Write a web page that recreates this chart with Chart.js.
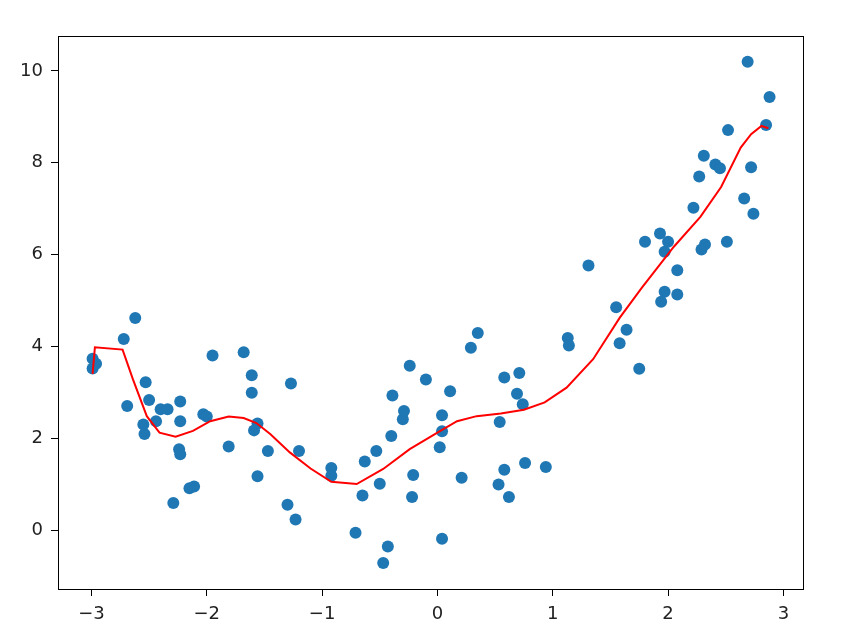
<!DOCTYPE html>
<html>
<head>
  <title>Scatter with fitted curve</title>
  <script src="https://cdn.jsdelivr.net/npm/chart.js"></script>
  <style>
    body { margin: 0; background: #fff; }
    #wrap { width: 844px; height: 635px; }
  </style>
</head>
<body>
  <div id="wrap"><canvas id="chart" width="844" height="635"></canvas></div>

  <script>
    // scatter points
    const scatterX = [-2.99, -2.99, -2.96, -2.72, -2.62, -2.69, -2.53, -2.50, -2.40, -2.34, -2.44, -2.55, -2.54,
      -2.23, -2.23, -2.24, -2.23, -2.29, -2.15, -2.11, -1.95, -2.03, -2.00, -1.81, -1.68, -1.61, -1.61, -1.56,
      -1.59, -1.47, -1.56, -1.27, -1.20, -1.30, -1.23,
      -0.92, -0.92, -0.71, -0.65, -0.63, -0.53, -0.50, -0.43, -0.47, -0.40, -0.39, -0.30, -0.29, -0.24, -0.21,
      -0.22, -0.10, 0.02, 0.04, 0.04, 0.04, 0.11, 0.21, 0.29, 0.35, 0.54, 0.58, 0.69, 0.74, 0.71, 0.58, 0.53,
      0.62, 0.76, 0.94,
      1.31, 1.55, 1.58, 1.13, 1.14, 1.64, 1.75,
      2.69, 2.88, 2.85, 2.52, 2.31, 2.41, 2.45, 2.72, 2.27, 2.22, 2.66, 2.74, 1.80, 1.93, 2.00, 1.97, 2.29,
      2.32, 2.51, 2.08, 1.97, 2.08, 1.94];
    const scatterY = [3.73, 3.52, 3.62, 4.16, 4.62, 2.70, 3.22, 2.83, 2.63, 2.63, 2.37, 2.30, 2.09,
      2.80, 2.37, 1.76, 1.65, 0.59, 0.91, 0.95, 3.80, 2.52, 2.47, 1.82, 3.87, 3.37, 2.99, 2.32,
      2.17, 1.72, 1.17, 3.19, 1.72, 0.55, 0.23,
      1.35, 1.18, -0.06, 0.75, 1.49, 1.72, 1.01, -0.36, -0.72, 2.05, 2.93, 2.41, 2.59, 3.58, 1.20,
      0.72, 3.28, 1.80, 2.15, 2.50, -0.19, 3.02, 1.14, 3.97, 4.29, 2.35, 3.32, 2.97, 2.74, 3.42, 1.31, 0.99,
      0.72, 1.46, 1.37,
      5.76, 4.85, 4.07, 4.18, 4.02, 4.36, 3.51,
      10.20, 9.43, 8.82, 8.71, 8.15, 7.96, 7.88, 7.90, 7.70, 7.02, 7.22, 6.89, 6.28, 6.46, 6.28, 6.06, 6.11,
      6.22, 6.28, 5.66, 5.19, 5.13, 4.97];

    // fitted curve vertices
    const lineX = [-2.99, -2.97, -2.73, -2.64, -2.52, -2.41, -2.27, -2.12, -1.97, -1.81, -1.68, -1.57, -1.45,
      -1.28, -1.10, -0.92, -0.70, -0.47, -0.24, 0.00, 0.17, 0.34, 0.55, 0.75, 0.93, 1.12, 1.35, 1.58, 1.77,
      2.05, 2.28, 2.46, 2.63, 2.72, 2.81, 2.87];
    const lineY = [3.40, 3.98, 3.93, 3.28, 2.48, 2.12, 2.03, 2.16, 2.37, 2.47, 2.44, 2.33, 2.09,
      1.69, 1.34, 1.05, 1.00, 1.33, 1.76, 2.12, 2.37, 2.48, 2.54, 2.62, 2.78, 3.10, 3.72, 4.62, 5.27,
      6.17, 6.82, 7.47, 8.33, 8.62, 8.80, 8.75];

    const xTicks = [-3, -2, -1, 0, 1, 2, 3];
    const yTicks = [0, 2, 4, 6, 8, 10];

    const fmt = v => String(v).replace('-', '\u2212');

    // box round the plot area, like matplotlib spines
    const frame = {
      id: 'frame',
      afterDatasetsDraw(chart) {
        const a = chart.chartArea, ctx = chart.ctx;
        ctx.save();
        ctx.strokeStyle = '#000';
        ctx.lineWidth = 1;
        ctx.strokeRect(Math.round(a.left) + 0.5, Math.round(a.top) + 0.5,
          Math.round(a.right - a.left), Math.round(a.bottom - a.top));
        ctx.restore();
      }
    };

    Chart.defaults.font.family = '"DejaVu Sans", sans-serif';
    Chart.defaults.font.size = 18;
    Chart.defaults.color = '#222';

    new Chart(document.getElementById('chart'), {
      type: 'scatter',
      data: {
        datasets: [{
          type: 'line',
          data: lineX.map((x, i) => ({ x: x, y: lineY[i] })),
          borderColor: 'red',
          borderWidth: 2,
          pointRadius: 0,
          tension: 0,
          fill: false,
          order: 0
        }, {
          data: scatterX.map((x, i) => ({ x: x, y: scatterY[i] })),
          backgroundColor: '#1f77b4',
          borderWidth: 0,
          pointRadius: 6,
          order: 1
        }]
      },
      options: {
        responsive: false,
        animation: false,
        layout: { padding: { top: 36, right: 41, left: 0, bottom: 0 } },
        plugins: { legend: { display: false }, tooltip: { enabled: false } },
        scales: {
          x: {
            min: -3.29, max: 3.17,
            afterBuildTicks: s => { s.ticks = xTicks.map(v => ({ value: v })); },
            afterFit: s => { s.height = 46; },
            grid: { drawOnChartArea: false, drawTicks: true, tickLength: 7, color: '#000' },
            border: { display: false },
            ticks: { padding: 8, callback: v => fmt(v), maxRotation: 0 }
          },
          y: {
            min: -1.285, max: 10.76,
            afterBuildTicks: s => { s.ticks = yTicks.map(v => ({ value: v })); },
            afterFit: s => { s.width = 58; },
            grid: { drawOnChartArea: false, drawTicks: true, tickLength: 7, color: '#000' },
            border: { display: false },
            ticks: { padding: 8, callback: v => fmt(v) }
          }
        }
      },
      plugins: [frame]
    });
  </script>
</body>
</html>
